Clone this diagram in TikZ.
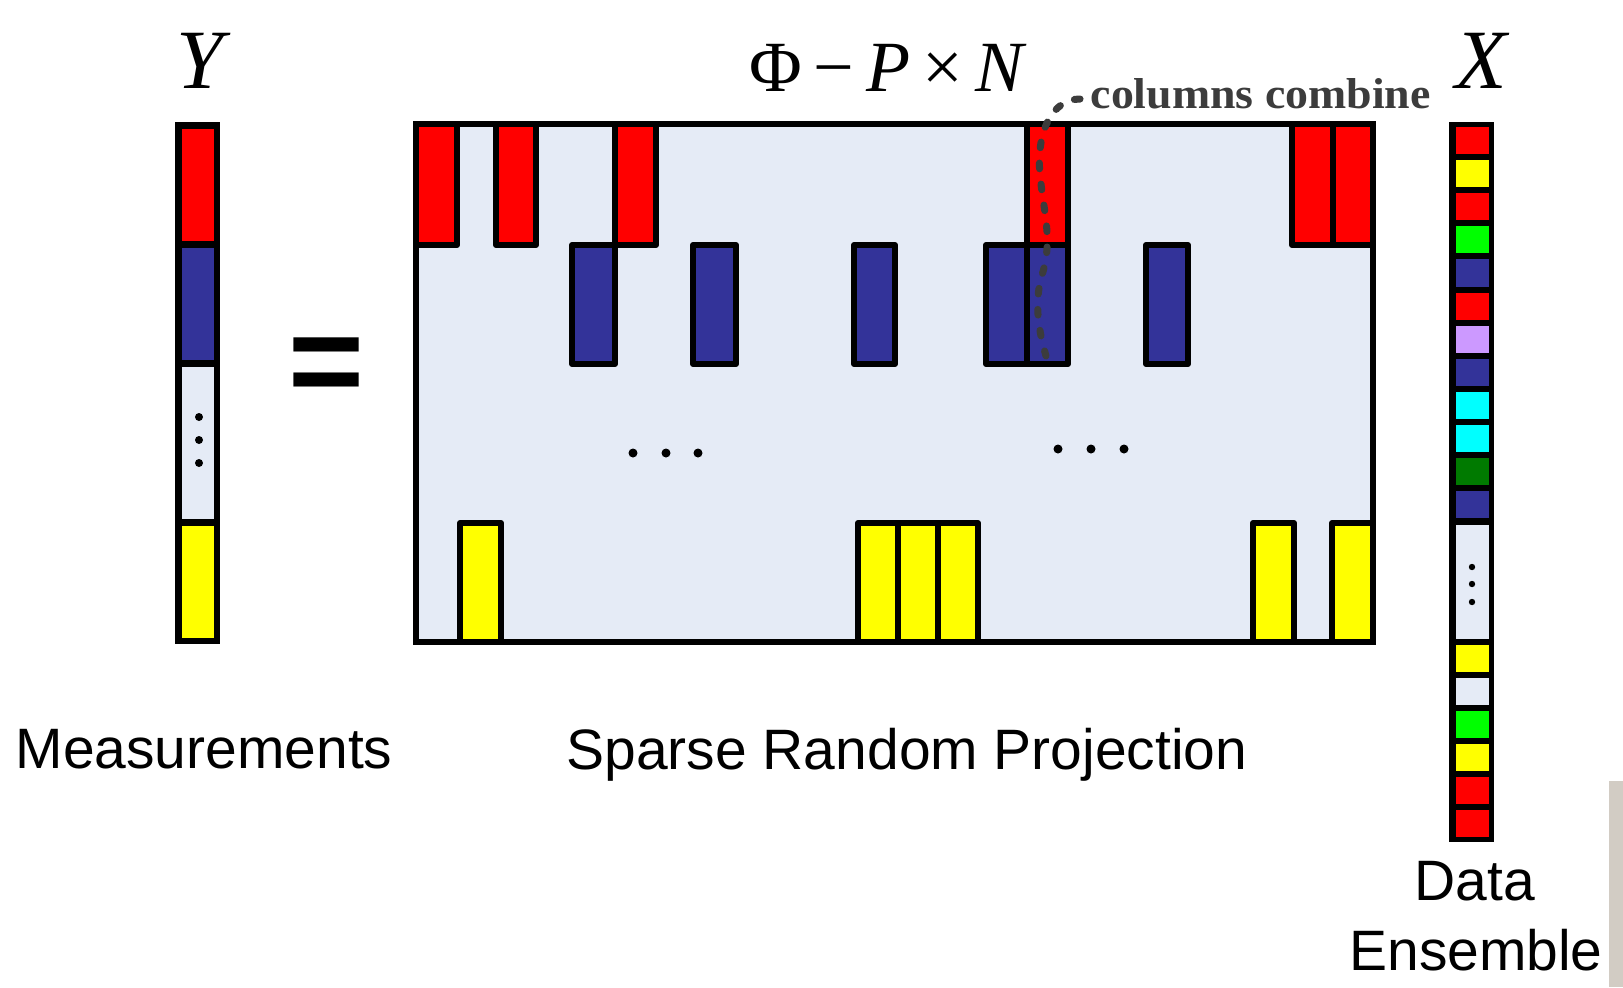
\documentclass[tikz,border=0pt]{standalone}
\usepackage{fontspec}
\setmainfont{Liberation Sans}
\newfontfamily\timesf{Liberation Serif}
\newfontfamily\timesw[FakeStretch=1.06]{Liberation Serif}
\definecolor{cred}{HTML}{FF0000}
\definecolor{cblue}{HTML}{333399}
\definecolor{cyel}{HTML}{FFFF00}
\definecolor{clight}{HTML}{E5EBF6}
\definecolor{cgreen}{HTML}{00FF00}
\definecolor{clav}{HTML}{CC99FF}
\definecolor{ccyan}{HTML}{00FFFF}
\definecolor{cdgreen}{HTML}{007A00}
\definecolor{tgray}{HTML}{3C3C3C}
\definecolor{strip}{HTML}{D2CCC4}
\begin{document}
\begin{tikzpicture}[x=0.01cm,y=-0.01cm,
  blk/.style={draw=black,line width=1.7pt,line join=round},
  lbl/.style={inner sep=0pt,font=\fontsize{16.2}{19}\selectfont},
  ttl/.style={inner sep=0pt,font=\fontsize{24}{28}\timesf\itshape},
  dotc/.style={fill=black},
  curve/.style={draw=tgray,line width=2pt,line cap=round,dash pattern=on 1.6pt off 4.4pt}]
\useasboundingbox (0,0) rectangle (1623,987);
\fill[white] (0,0) rectangle (1623,987);
\fill[strip] (1609,781) rectangle (1623,987);

% Y column
\fill[black] (175,122) rectangle (220,644);
\fill[cred] (182,129) rectangle (214,241);
\fill[cblue] (182,248) rectangle (214,360);
\fill[clight] (182,367) rectangle (214,519);
\fill[cyel] (182,526) rectangle (214,638);
\foreach \yy in {417,440,463} \fill[dotc] (199,\yy) circle (4);

% equals sign
\node[inner sep=0pt,anchor=base,font=\fontsize{37}{40}\selectfont\bfseries] (eq) at (326,405) {=};

% matrix
\draw[blk,fill=clight] (416,124) rectangle (1373,642);
\foreach \a/\b in {416/457,496/536,615/656,1027/1068,1292/1333,1333/1373}
  \draw[blk,fill=cred] (\a,124) rectangle (\b,245);
\foreach \a/\b in {572/615,693/736,854/895,986/1027,1027/1068,1146/1188}
  \draw[blk,fill=cblue] (\a,245) rectangle (\b,364);
\foreach \a/\b in {460/501,858/898,898/938,938/978,1253/1294,1332/1373}
  \draw[blk,fill=cyel] (\a,523) rectangle (\b,642);
\draw[draw=black,line width=1.7pt] (416,124) rectangle (1373,642);
\foreach \xx in {633,666,698} \fill[dotc] (\xx,453) circle (4.5);
\foreach \xx in {1058,1091,1124} \fill[dotc] (\xx,449) circle (4.5);

% X column
\fill[black] (1449,122) rectangle (1494,842);
\foreach \c [count=\i from 0] in {cred,cyel,cred,cgreen,cblue,cred,clav,cblue,ccyan,ccyan,cdgreen,cblue}
  \fill[\c] (1456,124+33.1*\i+3) rectangle (1489,124+33.1*\i+33.1-3);
\fill[clight] (1456,521.6+3) rectangle (1489,641.6-3);
\foreach \c [count=\i from 0] in {cyel,clight,cgreen,cyel,cred,cred}
  \fill[\c] (1456,641.6+33.1*\i+3) rectangle (1489,641.6+33.1*\i+33.1-3);
\foreach \yy in {567,584,602} \fill[dotc] (1472,\yy) circle (3.2);

% titles
\node[ttl,anchor=base] (ylbl) at (200,88) {Y};
\node[inner sep=0pt,anchor=base,font=\fontsize{20.5}{24}\timesf] (phi) at (888,91) {Φ\,−\,\textit{P}\,×\,\textit{N}};
\node[ttl,anchor=base] (xlbl) at (1481,88) {X};
\node[inner sep=0pt,anchor=base west,font=\fontsize{12.3}{14}\timesw\bfseries,text=tgray] (cc) at (1090,108) {columns combine};

% dashed curve
\coordinate (cstart) at (1080,99);
\coordinate (cend) at (1046,356);
\draw[curve] (cstart) .. controls (1052,99) and (1036,132) .. (1040,175)
  .. controls (1044,215) and (1053,240) .. (1042,275)
  .. controls (1033,305) and (1040,335) .. (cend);

% bottom labels
\node[lbl,anchor=base] (meas) at (204,768) {Measurements};
\node[lbl,anchor=base] (srp) at (907,769) {Sparse Random Projection};
\node[lbl,anchor=base] (data) at (1475,900) {Data};
\node[lbl,anchor=base] (ens) at (1476,970) {Ensemble};
\end{tikzpicture}
\end{document}
